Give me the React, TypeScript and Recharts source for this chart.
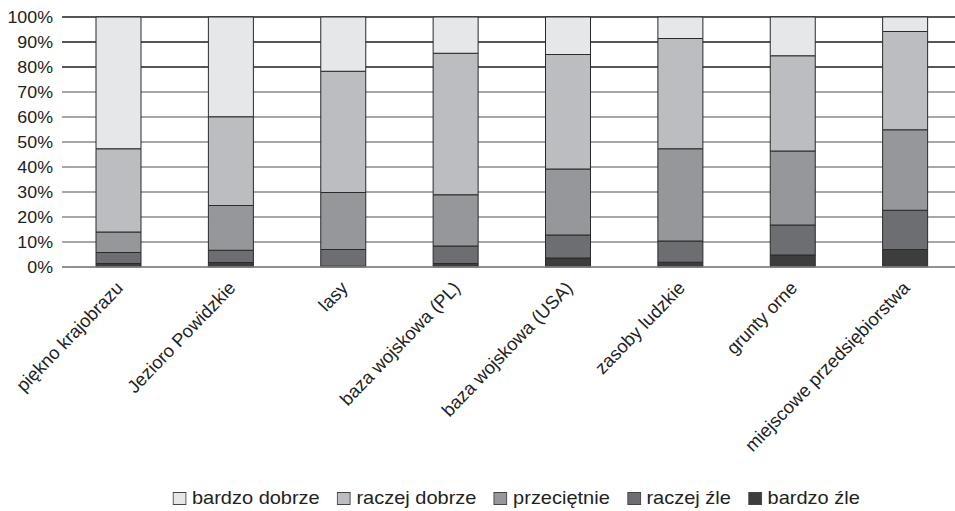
import { BarChart, Bar, XAxis, YAxis, CartesianGrid, Legend } from 'recharts';

// categories and percent shares
const categories = [
    'piękno krajobrazu',
    'Jezioro Powidzkie',
    'lasy',
    'baza wojskowa (PL)',
    'baza wojskowa (USA)',
    'zasoby ludzkie',
    'grunty orne',
    'miejscowe przedsiębiorstwa'
];
const bardzoZle = [1.4, 1.8, 0.3, 1.4, 3.6, 1.9, 4.8, 7.0];
const raczejZle = [4.4, 4.9, 6.7, 7.0, 9.2, 8.5, 12.0, 15.7];
const przecietnie = [8.2, 17.9, 22.8, 20.5, 26.4, 36.9, 29.6, 32.2];
const raczejDobrze = [33.3, 35.5, 48.5, 56.6, 45.8, 44.1, 38.1, 39.3];
const bardzoDobrze = [52.7, 39.9, 21.7, 14.5, 15.0, 8.6, 15.5, 5.8];
const yTicks = [0, 0.1, 0.2, 0.3, 0.4, 0.5, 0.6, 0.7, 0.8, 0.9, 1];

const series = [
    { key: 'bardzoZle', name: 'bardzo źle', color: '#3d3d3e' },
    { key: 'raczejZle', name: 'raczej źle', color: '#6d6e71' },
    { key: 'przecietnie', name: 'przeciętnie', color: '#96979a' },
    { key: 'raczejDobrze', name: 'raczej dobrze', color: '#bcbdc0' },
    { key: 'bardzoDobrze', name: 'bardzo dobrze', color: '#e6e7e8' }
];

const data = categories.map((name, i) => ({
    name,
    bardzoZle: bardzoZle[i],
    raczejZle: raczejZle[i],
    przecietnie: przecietnie[i],
    raczejDobrze: raczejDobrze[i],
    bardzoDobrze: bardzoDobrze[i]
}));

const FONT = '"Liberation Sans", Arial, sans-serif';
const STRETCH = 1.08; // text in the original is a little wider than plain Arial

function XTick({ x, y, payload }: any) {
    return (
        <g transform={`translate(${x + 6},${y + 14})`}>
            <text
                x={0}
                y={0}
                textAnchor="end"
                transform="rotate(-46)"
                fontSize={18.3}
                fontFamily={FONT}
                fill="#222"
            >
                {payload.value}
            </text>
        </g>
    );
}

function YTick({ x, y, payload }: any) {
    return (
        <g transform={`translate(${x},${y}) scale(${STRETCH},1)`}>
            <text x={0} y={0} dy="0.355em" textAnchor="end" fontSize={16.5} fontFamily={FONT} fill="#222">
                {`${Math.round(payload.value * 100)}%`}
            </text>
        </g>
    );
}

// gridlines: the top ones are drawn darker in the original
function GridLine(props: any) {
    const { x1, x2, y1, y2, index } = props;
    const dark = index >= 8;
    return <line x1={x1} x2={x2} y1={y1} y2={y2} stroke={dark ? '#1e1e1e' : '#8a8a8a'} strokeWidth={1.5} />;
}

function LegendContent() {
    const items = [...series].reverse();
    return (
        <div style={{
            display: 'flex',
            justifyContent: 'center',
            alignItems: 'center',
            height: 26,
            paddingLeft: 72
        }}>
            <div style={{
                display: 'flex',
                alignItems: 'center',
                fontFamily: FONT,
                fontSize: 18.5,
                color: '#222',
                transform: `scaleX(${STRETCH})`,
                transformOrigin: 'center'
            }}>
                {items.map((s, i) => (
                    <div key={s.key} style={{ display: 'flex', alignItems: 'center', marginRight: i < items.length - 1 ? 16 : 0 }}>
                        <svg width={13} height={13} style={{ marginRight: 5 }}>
                            <rect x={0.5} y={0.5} width={12} height={12} fill={s.color} stroke="#444" />
                        </svg>
                        <span>{s.name}</span>
                    </div>
                ))}
            </div>
        </div>
    );
}

export default function App() {
    return (
        <div style={{ position: 'absolute', left: 0, top: 0, width: 955, height: 511, overflow: 'hidden', background: '#fff' }}>
            <BarChart
                width={963}
                height={511}
                data={data}
                stackOffset="expand"
                barSize={45}
                margin={{ top: 17, right: 2, left: 0, bottom: 0 }}
            >
                <CartesianGrid vertical={false} horizontal={GridLine as any} />
                <XAxis
                    dataKey="name"
                    interval={0}
                    height={218}
                    tickLine={false}
                    axisLine={{ stroke: '#8a8a8a', strokeWidth: 1.5 }}
                    tick={<XTick />}
                />
                <YAxis
                    width={62}
                    domain={[0, 1]}
                    ticks={yTicks}
                    interval={0}
                    axisLine={false}
                    tickLine={false}
                    tickSize={0}
                    tickMargin={9}
                    tick={<YTick />}
                />
                <Legend verticalAlign="bottom" height={26} content={<LegendContent />} />
                {series.map((s) => (
                    <Bar
                        key={s.key}
                        dataKey={s.key}
                        name={s.name}
                        stackId="a"
                        fill={s.color}
                        stroke="#2a2a2a"
                        strokeWidth={1}
                        isAnimationActive={false}
                    />
                ))}
            </BarChart>
        </div>
    );
}
